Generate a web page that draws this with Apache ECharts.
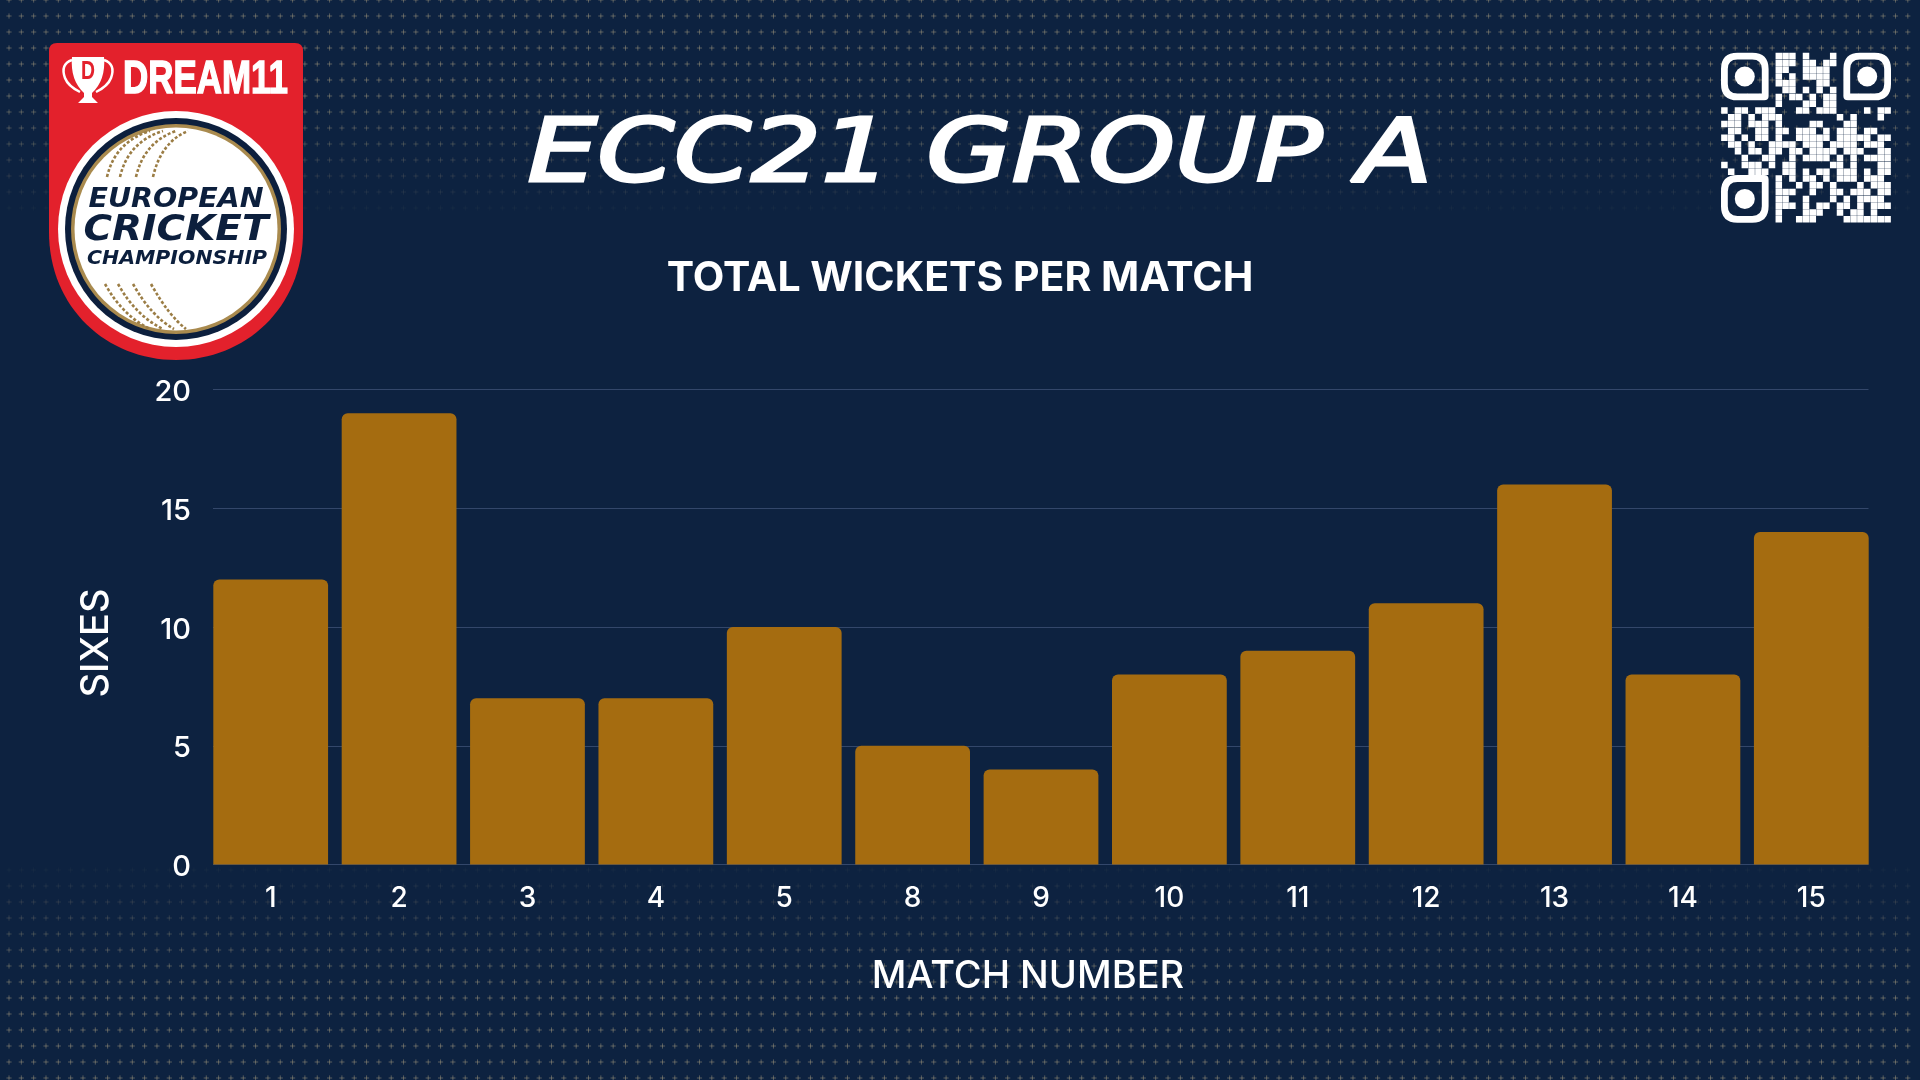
<!DOCTYPE html>
<html>
<head>
<meta charset="utf-8">
<style>html,body{margin:0;padding:0;background:#0d2240}#c{width:1920px;height:1080px}</style>
<script src="https://cdn.jsdelivr.net/npm/echarts@6/dist/echarts.min.js"></script>
</head>
<body>
<div id="c"></div>
<script>
const matchNumbers = ['1','2','3','4','5','8','9','10','11','12','13','14','15'];
const totalWickets = [12,19,7,7,10,5,4,8,9,11,16,8,14];
const yTicks = {min:0,max:20,interval:5};
const mainTitle = 'ECC21 GROUP A';
const chartTitle = 'TOTAL WICKETS PER MATCH';
const xName = 'MATCH NUMBER';
const yName = 'SIXES';

const BG='#0d2240', BAR='#a56c10', GRID='#33476a', UI='Inter, "Noto Sans", sans-serif';

echarts.graphic.registerShape('cmdPath', echarts.graphic.extendShape({
  type:'cmdPath',
  shape:{cmds:[]},
  buildPath(ctx,s){
    for(const c of s.cmds){
      switch(c[0]){
        case 'M':ctx.moveTo(c[1],c[2]);break;
        case 'L':ctx.lineTo(c[1],c[2]);break;
        case 'Q':ctx.quadraticCurveTo(c[1],c[2],c[3],c[4]);break;
        case 'C':ctx.bezierCurveTo(c[1],c[2],c[3],c[4],c[5],c[6]);break;
        case 'R':ctx.rect(c[1],c[2],c[3],c[4]);break;
        case 'Z':ctx.closePath();break;
      }
    }
  }
}));

const measure=document.createElement('canvas').getContext('2d');
function fitText(text,font,cx,cy,width,fill,extra){
  measure.font=font;
  const w=measure.measureText(text).width;
  return Object.assign({type:'text',x:cx,y:cy,scaleX:width/w,silent:true,
    style:Object.assign({text,font,fill,textAlign:'center',textVerticalAlign:'middle'},extra||{})});
}
function cmd(cmds,style){return {type:'cmdPath',silent:true,shape:{cmds},style};}
function circle(cx,cy,r,fill){return {type:'circle',silent:true,shape:{cx,cy,r},style:{fill}};}

/* dotted plus-sign texture */
function texture(){
  const out=[];
  const rowsTop=[];for(let y=0;y<=208;y+=16)rowsTop.push([y,0.5*Math.min(1,(222-y)/130)]);
  const rowsBot=[];for(let y=1078;y>=870;y-=16)rowsBot.push([y,0.5*Math.min(1,(y-856)/130)]);
  for(const [y,a] of rowsTop.concat(rowsBot)){
    const c=[];
    for(let x=9;x<1920;x+=12.33){
      c.push(['M',x-2.6,y+.0],['L',x+2.6,y],['M',x,y-2.6],['L',x,y+2.6]);
    }
    out.push(cmd(c,{fill:null,stroke:'#c9b78c',lineWidth:.8,opacity:a}));
  }
  return out;
}

/* QR code */
const qrRows=[
"........###.#...#.......",
"........###.##.##.......",
"........##..####........",
"........#.#.####........",
"........###...##........",
".........##.#.#.#.......",
"........#.##.#.##.......",
"........#...##.##.......",
"#.##.###...##.###....#.##",
".##.#.###........#.#...#.",
"###.###.#....##...##.....",
".##..##.##.###.#.###.##..",
"##.#.##.#..#####.#####.##",
".##.#..####.###.####.###.",
"..#.##.##.##.####.###..##",
"...#..##..#.####.#.#.####",
"#..###.#.##.....##.#...##",
".#..###..##.#.##.###.#.##",
"........#.#.##.#.###.###.",
"........#..#.##.#...#.###",
"........###..#..##.###.##",
"........##..#...#.#.####.",
"........###.#.##.##.#.###",
"........#...###..#.##.#..",
"........#..###....#######"
];
function finder(x0,y0,sharp){
  const m=6.8,ins=m/2,s=7*m-m,r=13;
  const x=x0+ins,y=y0+ins;
  const rr={tl:r,tr:r,br:r,bl:r};rr[sharp]=1;
  const c=[['M',x+rr.tl,y],['L',x+s-rr.tr,y],['Q',x+s,y,x+s,y+rr.tr],['L',x+s,y+s-rr.br],['Q',x+s,y+s,x+s-rr.br,y+s],
    ['L',x+rr.bl,y+s],['Q',x,y+s,x,y+s-rr.bl],['L',x,y+rr.tl],['Q',x,y,x+rr.tl,y],['Z']];
  return [cmd(c,{fill:null,stroke:'#fff',lineWidth:m}),circle(x0+3.5*m,y0+3.5*m,10,'#fff')];
}
function qr(){
  const X=1721,Y=52.7,m=6.8,c=[];
  qrRows.forEach((row,r)=>{for(let i=0;i<row.length;i++){if(row[i]==='#')c.push(['R',X+i*m+.15,Y+r*m+.15,m-.3,m-.3]);}});
  return [cmd(c,{fill:'#fff'})].concat(
    finder(X,Y,'br'),finder(X+18*m,Y,'bl'),finder(X,Y+18*m,'tr'));
}

/* tournament logo */
function logo(){
  const out=[];
  out.push(cmd([['M',57,43],['L',295,43],['Q',303,43,303,51],['L',303,232],['C',303,308,245,360,176,360],['C',107,360,49,308,49,232],['L',49,51],['Q',49,43,57,43],['Z']],{fill:'#e3212c'}));
  out.push(circle(176,229,118,'#fff'),circle(176,229,111,'#0c1f3d'),circle(176,229,105,'#a98a4e'),circle(176,229,101.5,'#fff'));
  const seam={fill:null,stroke:'#9b7d45',lineWidth:2.6,lineDash:[3,2]};
  [[107,177,150],[120,177,163],[136,177,176],[153,177,188]].forEach(([x,y,e])=>{
    out.push(cmd([['M',x,y],['Q',x+8,y-35,e,131]],seam));
  });
  [[105,284,150],[118,284,163],[133,284,174],[151,284,186]].forEach(([x,y,e])=>{
    out.push(cmd([['M',x,y],['Q',x+18,y+32,e,329]],seam));
  });
  out.push(fitText('EUROPEAN','italic bold 27px "DejaVu Sans"',176,200,175,'#0c1f3d'));
  out.push(fitText('CRICKET','italic bold 35px "DejaVu Sans"',176,231,185,'#0c1f3d'));
  out.push(fitText('CHAMPIONSHIP','italic bold 19px "DejaVu Sans"',177,259,180,'#0c1f3d'));
  out.push(fitText('DREAM11','bold 47px "Liberation Sans Narrow","Liberation Sans"',205.5,80,165,'#fff',{stroke:'#fff',lineWidth:1.5}));
  /* trophy */
  out.push(cmd([['M',72,57],['L',104,57],['Q',106,80,92,93],['L',92,97],['L',98,103],['L',78,103],['L',84,97],['L',84,93],['Q',70,80,72,57],['Z']],{fill:'#fff'}));
  out.push(cmd([['M',72,60],['Q',60,64,65,78],['Q',68,86,80,92]],{fill:null,stroke:'#fff',lineWidth:2.5}));
  out.push(cmd([['M',104,60],['Q',116,64,111,78],['Q',108,86,96,92]],{fill:null,stroke:'#fff',lineWidth:2.5}));
  out.push(fitText('D','bold 26px "Liberation Sans"',88,72,14,'#e3212c'));
  return out;
}

const chart=echarts.init(document.getElementById('c'),null,{width:1920,height:1080});
chart.setOption({
  backgroundColor:BG,
  animation:false,
  title:{text:chartTitle,left:955,top:253,textAlign:'center',
    textStyle:{color:'#fff',fontFamily:UI,fontWeight:700,fontSize:41}},
  grid:[
    {left:213,top:389.5,width:1655.5,height:475},
    {left:206.5,top:389.5,width:1669,height:475}
  ],
  xAxis:[
    {gridIndex:0,type:'category',data:matchNumbers,show:false},
    {gridIndex:1,type:'category',data:matchNumbers,
      axisLine:{show:false},axisTick:{show:false},
      axisLabel:{color:'#fff',fontFamily:UI,fontWeight:500,fontSize:28,margin:20,interval:0},
      name:xName,nameLocation:'middle',nameGap:93,
      nameTextStyle:{color:'#fff',fontFamily:UI,fontWeight:500,fontSize:38,padding:[0,26,0,0]}}
  ],
  yAxis:[
    {gridIndex:0,type:'value',min:yTicks.min,max:yTicks.max,interval:yTicks.interval,
      axisLine:{show:false},axisTick:{show:false},
      splitLine:{show:true,lineStyle:{color:GRID,width:1.2}},
      axisLabel:{margin:22,formatter:'{t|{value}}',
        rich:{t:{color:'#fff',fontFamily:UI,fontWeight:500,fontSize:29,padding:[6,0,0,0]}}},
      name:yName,nameLocation:'middle',nameGap:97,nameRotate:90,
      nameTextStyle:{color:'#fff',fontFamily:UI,fontWeight:500,fontSize:38,padding:[0,32,0,0]}},
    {gridIndex:1,type:'value',min:yTicks.min,max:yTicks.max,interval:yTicks.interval,show:false,splitLine:{show:false}}
  ],
  series:[{
    type:'bar',xAxisIndex:1,yAxisIndex:1,data:totalWickets,
    barCategoryGap:'10.6%',
    itemStyle:{color:BAR,borderRadius:[6,6,0,0]}
  }],
  graphic:{elements:[].concat(
    texture(),
    logo(),
    qr(),
    [fitText(mainTitle,'italic 88px "DejaVu Sans"',980,158,905,'#fff',{stroke:'#fff',lineWidth:3})]
  )}
});
</script>
</body>
</html>
